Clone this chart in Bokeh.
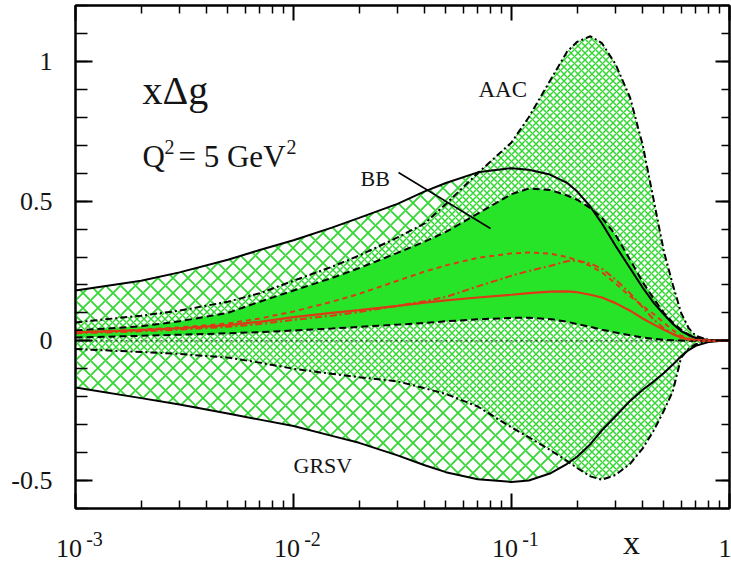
from bokeh.plotting import figure
from bokeh.models import (Range1d, FixedTicker, LinearAxis, LogAxis, Label, Span, Arrow,
                          CustomJSTickFormatter)
from bokeh.embed import file_html
from bokeh.resources import INLINE

# ---------------- data ----------------
x_vals = [0.001, 0.002, 0.003, 0.005, 0.007, 0.01, 0.015, 0.02, 0.03, 0.04, 0.05, 0.07,
          0.1, 0.12, 0.15, 0.18, 0.2, 0.23, 0.26, 0.3, 0.35, 0.4, 0.45, 0.5, 0.55, 0.6,
          0.65, 0.7, 0.8, 0.9, 1.0]

grsv_upper = [0.18, 0.215, 0.245, 0.29, 0.325, 0.36, 0.405, 0.44, 0.49, 0.535, 0.565, 0.603,
              0.618, 0.612, 0.595, 0.565, 0.535, 0.48, 0.42, 0.34, 0.26, 0.19, 0.135, 0.095,
              0.06, 0.035, 0.02, 0.01, 0.003, 0.001, 0.0]
grsv_lower = [-0.167, -0.205, -0.228, -0.26, -0.282, -0.305, -0.34, -0.365, -0.41, -0.445, -0.47, -0.495,
              -0.505, -0.5, -0.475, -0.44, -0.415, -0.37, -0.32, -0.27, -0.215, -0.175, -0.145, -0.115,
              -0.085, -0.055, -0.033, -0.018, -0.004, -0.001, 0.0]
aac_upper = [0.066, 0.09, 0.108, 0.14, 0.17, 0.215, 0.265, 0.305, 0.37, 0.42, 0.49, 0.60,
             0.71, 0.80, 0.93, 1.035, 1.07, 1.09, 1.065, 0.99, 0.87, 0.70, 0.50, 0.32,
             0.20, 0.10, 0.045, 0.018, 0.003, 0.001, 0.0]
aac_lower = [-0.029, -0.04, -0.047, -0.06, -0.078, -0.1, -0.118, -0.13, -0.145, -0.17, -0.19, -0.235,
             -0.31, -0.345, -0.39, -0.43, -0.455, -0.485, -0.497, -0.48, -0.44, -0.385, -0.32, -0.25,
             -0.18, -0.06, -0.028, -0.012, -0.002, 0.0, 0.0]
bb_upper = [0.037, 0.052, 0.07, 0.10, 0.14, 0.18, 0.225, 0.26, 0.315, 0.355, 0.39, 0.455,
            0.525, 0.545, 0.54, 0.52, 0.505, 0.475, 0.44, 0.38, 0.29, 0.21, 0.15, 0.10,
            0.065, 0.04, 0.022, 0.012, 0.003, 0.001, 0.0]
bb_lower = [0.012, 0.018, 0.022, 0.027, 0.031, 0.037, 0.044, 0.05, 0.058, 0.064, 0.07, 0.077,
            0.082, 0.083, 0.078, 0.068, 0.06, 0.05, 0.04, 0.03, 0.02, 0.012, 0.007, 0.004,
            0.002, 0.001, 0.0, 0.0, 0.0, 0.0, 0.0]
red_solid = [0.03, 0.038, 0.045, 0.056, 0.068, 0.085, 0.1, 0.11, 0.125, 0.137, 0.145, 0.155,
             0.165, 0.171, 0.176, 0.177, 0.174, 0.165, 0.155, 0.135, 0.108, 0.08, 0.058, 0.04,
             0.024, 0.012, 0.006, 0.003, 0.001, 0.0, 0.0]
red_dashed = [0.03, 0.04, 0.048, 0.062, 0.08, 0.105, 0.14, 0.168, 0.215, 0.248, 0.27, 0.297,
              0.313, 0.316, 0.312, 0.3, 0.288, 0.268, 0.245, 0.205, 0.16, 0.125, 0.095, 0.065,
              0.038, 0.018, 0.008, 0.004, 0.001, 0.0, 0.0]
red_dashdot = [0.027, 0.034, 0.04, 0.05, 0.06, 0.075, 0.09, 0.103, 0.125, 0.142, 0.157, 0.195,
               0.233, 0.25, 0.268, 0.285, 0.287, 0.277, 0.258, 0.22, 0.17, 0.12, 0.075, 0.045,
               0.025, 0.01, 0.004, 0.002, 0.0, 0.0, 0.0]

x_major = [0.001, 0.01, 0.1, 1.0]
x_minor = [m * d for d in (0.001, 0.01, 0.1) for m in range(2, 10)]
x_tick_bases = ["10\u00a0\u00a0", "10\u00a0\u00a0", "10\u00a0\u00a0", "1"]
x_tick_exponents = ["-3", "-2", "-1"]
x_axis_name = "x"
y_major = [-0.5, 0.0, 0.5, 1.0]
y_minor = [round(-0.6 + 0.1 * i, 1) for i in range(19)]
y_tick_labels = {-0.5: "-0.5", 0: "0", 0.5: "0.5", 1: "1"}

# ---------------- styling ----------------
FONT = "Liberation Serif"
TXT = "#141414"
GREEN = "#28e428"
HATCH = "#34d634"
RED = "#dc3a16"
DECADE_PX = 218.0

p = figure(width=731, height=567, x_axis_type="log",
           x_range=Range1d(1e-3, 1.0), y_range=Range1d(-0.6, 1.2),
           output_backend="svg", toolbar_location=None,
           min_border_left=75, min_border_right=2, min_border_top=5, min_border_bottom=59)
p.grid.visible = False
p.background_fill_color = "white"
p.border_fill_color = "white"
p.outline_line_color = "black"
p.outline_line_width = 2


def px2x(px):
    return 10 ** (-3 + (px - 75) / DECADE_PX)


def py2y(py):
    return (340.3 - py) / 279.4


def shift(v, dpx):
    return v * 10 ** (dpx / DECADE_PX)


# bands
p.varea(x=x_vals, y1=grsv_lower, y2=grsv_upper, fill_color="white", fill_alpha=0.0,
        hatch_pattern="diagonal_cross", hatch_color=HATCH, hatch_scale=15, hatch_weight=1.8)
p.varea(x=x_vals, y1=aac_lower, y2=aac_upper, fill_color="white", fill_alpha=1.0,
        hatch_pattern="diagonal_cross", hatch_color=HATCH, hatch_scale=7, hatch_weight=1.5)
p.varea(x=x_vals, y1=bb_lower, y2=bb_upper, fill_color=GREEN, fill_alpha=1.0)

p.add_layout(Span(location=0, dimension="width", line_color="black", line_width=1,
                  line_dash="2 3"))

# boundaries
p.line(x_vals, aac_upper, line_color="black", line_width=2, line_dash="7 3 2 3")
p.line(x_vals, aac_lower, line_color="black", line_width=2, line_dash="7 3 2 3")
p.line(x_vals, bb_upper, line_color="black", line_width=2, line_dash="7 4")
p.line(x_vals, bb_lower, line_color="black", line_width=2, line_dash="7 4")
p.line(x_vals, grsv_upper, line_color="black", line_width=2)
p.line(x_vals, grsv_lower, line_color="black", line_width=2)
# central curves
p.line(x_vals, red_dashdot, line_color=RED, line_width=2, line_dash="7 3 2 3")
p.line(x_vals, red_dashed, line_color=RED, line_width=2, line_dash="5 4")
p.line(x_vals, red_solid, line_color=RED, line_width=2.2)

blank = CustomJSTickFormatter(code="return ''")


def style_axis(ax, tin, min_in):
    ax.axis_line_color = "black"
    ax.axis_line_width = 2
    ax.major_tick_line_color = "black"
    ax.major_tick_line_width = 2
    ax.minor_tick_line_color = "black"
    ax.minor_tick_line_width = 1.5
    ax.major_tick_in = tin
    ax.major_tick_out = 0
    ax.minor_tick_in = min_in
    ax.minor_tick_out = 0
    ax.major_label_text_font = FONT
    ax.major_label_text_color = TXT


def hide_labels(ax):
    ax.formatter = blank
    ax.major_label_text_font_size = "2px"
    ax.major_label_standoff = 0


def text_axis(positions, labels, size, standoff):
    ax = LogAxis(ticker=FixedTicker(ticks=positions, minor_ticks=[]),
                 formatter=CustomJSTickFormatter(args=dict(labels=labels),
                                                 code="return labels[index]"))
    ax.axis_line_color = None
    ax.major_tick_line_color = None
    ax.minor_tick_line_color = None
    ax.major_tick_in = 0
    ax.major_tick_out = 0
    ax.minor_tick_in = 0
    ax.minor_tick_out = 0
    ax.major_label_text_font = FONT
    ax.major_label_text_color = TXT
    ax.major_label_text_font_size = size
    ax.major_label_standoff = standoff
    p.add_layout(ax, "below")
    return ax


bottom = p.xaxis[0]
bottom.ticker = FixedTicker(ticks=x_major, minor_ticks=x_minor)
style_axis(bottom, 15, 8)
hide_labels(bottom)

left = p.yaxis[0]
left.ticker = FixedTicker(ticks=y_major, minor_ticks=y_minor)
left.major_label_overrides = y_tick_labels
style_axis(left, 17, 12)
left.major_label_text_font_size = "26px"
left.major_label_standoff = 23

top = LogAxis(ticker=FixedTicker(ticks=x_major, minor_ticks=x_minor))
style_axis(top, 15, 8)
hide_labels(top)
p.add_layout(top, "above")

right = LinearAxis(ticker=FixedTicker(ticks=y_major, minor_ticks=y_minor))
style_axis(right, 14, 8)
hide_labels(right)
p.add_layout(right, "right")

# rows of text under the frame: exponents, axis name, bases
text_axis([shift(v, 19) for v in x_major[:3]], x_tick_exponents, "20px", 23)
text_axis([px2x(631)], [x_axis_name], "34px", -25)
text_axis(x_major[:3] + [shift(x_major[3], -1.5)], x_tick_bases, "26px", -30)


# in-plot texts
def txt(px, py, s, size):
    p.add_layout(Label(x=px2x(px), y=py2y(py), text=s, text_align="left",
                       text_baseline="alphabetic", text_font=FONT, text_font_size=size,
                       text_color=TXT))


txt(142, 90, "xΔg", "40px")
txt(142, 156, "Q", "31px")
txt(164, 146, "2", "20px")
txt(178, 156, "= 5 GeV", "31px")
txt(286, 146, "2", "20px")
txt(478, 89, "AAC", "23px")
txt(360, 178, "BB", "22px")
txt(293, 465, "GRSV", "22px")

p.add_layout(Arrow(end=None, x_start=px2x(398), y_start=py2y(172), x_end=px2x(490),
                   y_end=py2y(228), line_color="black", line_width=1.5))

open("out.html", "w").write(file_html(p, INLINE))
